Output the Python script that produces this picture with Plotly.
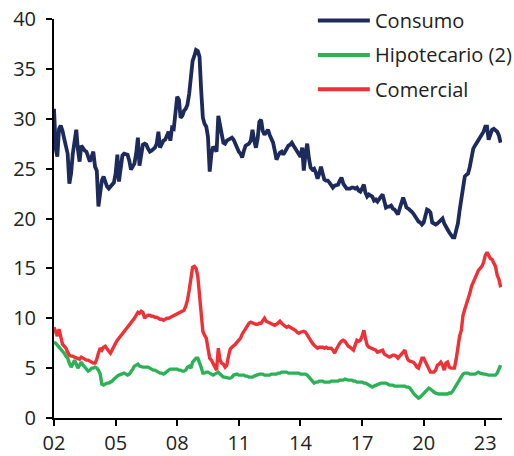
import pandas as pd
import plotly.graph_objects as go

# Monthly, Jan-2002 .. Oct-2023
start_month = "2002-01-01"

consumo = [
    31.0, 27.0, 26.2, 29.0, 29.3, 28.8, 28.0, 27.2, 26.5, 23.5, 24.5, 26.5,  # 2002
    27.5, 28.9, 27.0, 25.7, 27.3, 27.0, 26.8, 26.7, 26.3, 25.7, 26.2, 26.7,  # 2003
    25.2, 24.8, 21.2, 22.8, 23.8, 24.2, 23.7, 23.2, 23.0, 23.2, 23.4, 23.6,  # 2004
    24.5, 26.4, 23.7, 24.8, 26.3, 26.5, 26.4, 26.4, 25.8, 24.9, 25.2, 25.5,  # 2005
    26.5, 28.1, 25.3, 26.5, 27.4, 27.5, 27.4, 27.0, 26.7, 26.8, 26.9, 27.1,  # 2006
    27.5, 28.7, 27.1, 27.5, 27.8, 27.9, 28.3, 28.7, 27.8, 29.1, 29.0, 30.5,  # 2007
    32.2, 31.9, 30.1, 30.3, 30.8, 31.0, 31.4, 32.5, 34.5, 35.8, 36.3, 36.9,  # 2008
    36.8, 36.2, 33.0, 30.1, 29.5, 29.2, 28.2, 24.7, 26.5, 27.2, 27.0, 26.7,  # 2009
    30.3, 29.0, 28.5, 27.6, 27.5, 27.8, 27.9, 28.0, 28.1, 27.9, 27.5, 27.0,  # 2010
    26.7, 26.5, 26.1, 26.8, 27.3, 27.4, 27.5, 27.8, 28.9, 27.8, 27.1, 28.0,  # 2011
    29.7, 29.9, 28.8, 28.4, 28.7, 28.9, 28.4, 28.0, 27.6, 26.8, 25.9, 26.3,  # 2012
    26.6, 26.7, 26.4, 26.7, 27.0, 27.3, 27.4, 27.6, 27.3, 27.0, 26.8, 26.5,  # 2013
    26.2, 27.1, 24.8, 26.5, 27.5, 26.0, 25.1, 24.9, 25.0, 24.6, 24.0, 24.5,  # 2014
    25.2, 24.5, 23.9, 23.8, 23.8, 23.6, 23.4, 23.1, 23.3, 23.4, 23.4, 23.8,  # 2015
    24.1, 23.5, 23.2, 23.0, 23.0, 23.0, 23.1, 23.1, 23.0, 23.1, 22.8, 22.7,  # 2016
    23.0, 23.4, 22.6, 22.2, 22.4, 22.3, 22.2, 21.8, 21.9, 21.7, 22.0, 22.2,  # 2017
    22.4, 21.5, 21.1, 21.2, 21.2, 21.3, 21.0, 20.9, 20.7, 20.4, 21.0, 21.6,  # 2018
    22.1, 21.6, 21.1, 21.0, 20.9, 20.7, 20.5, 20.2, 19.9, 19.7, 19.6, 19.4,  # 2019
    19.6, 20.5, 20.9, 20.8, 20.6, 19.6, 19.5, 19.4, 19.5, 19.7, 19.9, 20.0,  # 2020
    19.5, 19.1, 18.9, 18.6, 18.4, 18.1, 18.1, 18.8, 19.5, 20.8, 21.9, 23.0,  # 2021
    24.2, 24.4, 24.5, 25.2, 26.3, 27.0, 27.3, 27.6, 27.8, 28.0, 28.4, 28.7,  # 2022
    29.2, 29.2, 27.9, 28.6, 28.9, 29.0, 28.8, 28.7, 28.3, 27.6,              # 2023
]

hipotecario = [
    7.6, 7.5, 7.3, 7.1, 7.0, 6.8, 6.5, 6.2, 6.0, 5.5, 5.1, 5.4,  # 2002
    5.8, 5.4, 5.0, 5.3, 5.6, 5.3, 5.1, 4.8, 4.7, 4.8, 5.0, 5.0,  # 2003
    5.1, 5.0, 4.8, 4.4, 3.4, 3.3, 3.4, 3.5, 3.5, 3.6, 3.7, 3.9,  # 2004
    4.1, 4.2, 4.3, 4.4, 4.4, 4.5, 4.4, 4.3, 4.4, 4.6, 4.9, 5.2,  # 2005
    5.3, 5.4, 5.2, 5.1, 5.1, 5.1, 5.1, 5.1, 5.0, 4.9, 4.8, 4.8,  # 2006
    4.7, 4.6, 4.5, 4.5, 4.4, 4.5, 4.7, 4.8, 4.9, 4.9, 4.9, 4.9,  # 2007
    4.9, 4.8, 4.8, 4.7, 4.7, 4.8, 5.1, 5.2, 5.0, 5.6, 5.8, 6.0,  # 2008
    6.0, 5.6, 5.1, 4.5, 4.5, 4.6, 4.6, 4.5, 4.4, 4.3, 4.4, 4.5,  # 2009
    4.6, 4.4, 4.2, 4.1, 4.1, 4.0, 4.0, 4.0, 4.1, 4.3, 4.4, 4.4,  # 2010
    4.3, 4.3, 4.3, 4.3, 4.2, 4.2, 4.1, 4.1, 4.1, 4.2, 4.3, 4.3,  # 2011
    4.4, 4.4, 4.4, 4.3, 4.3, 4.3, 4.3, 4.4, 4.4, 4.4, 4.4, 4.5,  # 2012
    4.5, 4.6, 4.6, 4.6, 4.6, 4.5, 4.5, 4.5, 4.5, 4.5, 4.5, 4.5,  # 2013
    4.4, 4.4, 4.4, 4.4, 4.3, 4.1, 3.9, 3.7, 3.5, 3.6, 3.6, 3.7,  # 2014
    3.7, 3.7, 3.6, 3.6, 3.6, 3.6, 3.7, 3.7, 3.7, 3.7, 3.7, 3.8,  # 2015
    3.8, 3.8, 3.9, 3.8, 3.8, 3.8, 3.8, 3.7, 3.7, 3.6, 3.6, 3.6,  # 2016
    3.6, 3.5, 3.5, 3.4, 3.3, 3.2, 3.1, 3.2, 3.3, 3.4, 3.5, 3.5,  # 2017
    3.5, 3.5, 3.5, 3.4, 3.3, 3.3, 3.3, 3.2, 3.2, 3.2, 3.2, 3.2,  # 2018
    3.2, 3.2, 3.1, 3.1, 3.0, 2.7, 2.5, 2.3, 2.1, 2.0, 2.1, 2.3,  # 2019
    2.5, 2.6, 2.8, 3.0, 2.9, 2.7, 2.6, 2.5, 2.4, 2.4, 2.4, 2.4,  # 2020
    2.4, 2.4, 2.4, 2.5, 2.5, 2.7, 3.0, 3.3, 3.6, 3.9, 4.2, 4.4,  # 2021
    4.5, 4.5, 4.5, 4.4, 4.4, 4.4, 4.4, 4.5, 4.6, 4.5, 4.4, 4.4,  # 2022
    4.4, 4.3, 4.3, 4.3, 4.3, 4.3, 4.3, 4.5, 5.0, 5.3,            # 2023
]

comercial = [
    9.1, 8.6, 8.2, 8.9, 8.0, 7.4, 7.2, 7.0, 6.6, 6.3, 6.2, 6.2,  # 2002
    6.1, 6.0, 6.0, 5.9, 6.1, 6.0, 5.9, 5.8, 5.8, 5.7, 5.6, 5.5,  # 2003
    5.5, 5.9, 6.5, 7.0, 6.8, 7.1, 7.2, 6.9, 6.7, 6.5, 6.9, 7.2,  # 2004
    7.5, 7.8, 8.0, 8.2, 8.5, 8.7, 8.9, 9.1, 9.3, 9.6, 9.8, 10.0,  # 2005
    10.3, 10.6, 10.5, 10.7, 10.6, 10.0, 10.2, 10.3, 10.3, 10.2, 10.2, 10.1,  # 2006
    10.1, 10.0, 9.9, 9.9, 9.8, 9.9, 10.0, 10.0, 10.1, 10.2, 10.3, 10.4,  # 2007
    10.5, 10.6, 10.6, 10.7, 10.8, 11.2, 11.8, 12.8, 14.0, 15.1, 15.2, 15.0,  # 2008
    14.2, 12.5, 10.5, 8.7, 8.3, 8.0, 7.0, 6.0, 5.8, 5.5, 5.2, 4.8,  # 2009
    7.0, 5.8, 5.5, 5.4, 5.1, 5.3, 6.2, 6.9, 7.1, 7.2, 7.4, 7.6,  # 2010
    7.8, 8.0, 8.4, 8.7, 9.0, 9.3, 9.5, 9.6, 9.5, 9.5, 9.4, 9.4,  # 2011
    9.5, 9.5, 9.7, 10.0, 9.7, 9.6, 9.6, 9.5, 9.4, 9.3, 9.4, 9.5,  # 2012
    9.7, 9.5, 9.3, 9.2, 9.1, 9.2, 9.1, 9.0, 8.9, 8.8, 8.6, 8.5,  # 2013
    8.6, 8.7, 8.7, 8.6, 8.3, 8.0, 7.8, 7.5, 7.3, 7.1, 7.0, 7.1,  # 2014
    7.1, 7.1, 7.0, 7.1, 7.0, 7.0, 7.0, 6.8, 6.5, 6.9, 7.3, 7.5,  # 2015
    7.7, 7.8, 7.7, 7.4, 7.2, 7.1, 6.9, 6.8, 7.3, 7.8, 7.7, 7.8,  # 2016
    8.2, 8.8, 8.0, 7.3, 7.1, 7.0, 7.0, 6.9, 6.8, 6.6, 6.7, 6.7,  # 2017
    6.8, 6.4, 6.3, 6.2, 6.1, 6.2, 6.3, 6.3, 6.2, 6.0, 6.2, 6.4,  # 2018
    6.6, 6.8, 6.2, 5.8, 5.7, 5.6, 5.6, 5.4, 5.1, 5.0, 5.4, 6.0,  # 2019
    6.0, 5.6, 5.4, 4.9, 4.6, 4.6, 4.6, 4.8, 5.3, 5.4, 5.6, 5.3,  # 2020
    4.8, 5.5, 5.6, 5.1, 5.0, 5.0, 5.0, 5.9, 7.2, 8.2, 8.8, 10.3,  # 2021
    10.9, 11.4, 11.9, 12.5, 13.2, 13.6, 14.1, 14.4, 14.8, 15.0, 15.2, 15.6,  # 2022
    16.3, 16.6, 16.3, 16.0, 15.9, 15.6, 15.2, 14.3, 13.9, 13.1,  # 2023
]

series_names = ["Consumo", "Hipotecario (2)", "Comercial"]
series_colors = ["#1C2B5C", "#2BB256", "#EE3136"]
y_ticks = [0, 5, 10, 15, 20, 25, 30, 35, 40]

dates = pd.date_range(start_month, periods=len(consumo), freq="MS")

fig = go.Figure()
for name, vals, col in zip(series_names, [consumo, hipotecario, comercial], series_colors):
    fig.add_trace(go.Scatter(
        x=dates, y=vals, mode="lines", name=name,
        line=dict(color=col, width=3.8 if name == "Consumo" else 3.4),
        showlegend=False,
    ))

FONT = "Open Sans"

# manual legend (line swatch + text) in paper coordinates
leg_y = [0.996, 0.910, 0.824]
for name, col, yy in zip(series_names, series_colors, leg_y):
    fig.add_shape(type="line", xref="paper", yref="paper",
                  x0=0.589, x1=0.705, y0=yy, y1=yy,
                  line=dict(color=col, width=4))
    fig.add_annotation(xref="paper", yref="paper", x=0.712, y=yy,
                       text=name, showarrow=False, xanchor="left", yanchor="middle",
                       font=dict(family=FONT, size=20, color="#222222"))

fig.update_layout(
    width=514, height=456,
    margin=dict(l=54, r=12, t=19, b=38, autoexpand=False),
    paper_bgcolor="white", plot_bgcolor="white",
    font=dict(family=FONT, size=20, color="#222222"),
)
fig.update_xaxes(
    type="date", automargin=False,
    range=["2002-01-01", "2023-10-25"],
    tick0="2002-01-01", dtick="M36", tickformat="%y",
    showgrid=False, zeroline=False,
    showline=True, linecolor="#000000", linewidth=2,
    ticks="outside", ticklen=6, tickwidth=2, tickcolor="#000000",
)
fig.update_yaxes(
    automargin=False,
    range=[0, 40], tickvals=y_ticks,
    showgrid=False, zeroline=False,
    showline=True, linecolor="#000000", linewidth=2,
    ticks="outside", ticklen=6, tickwidth=2, tickcolor="#000000",
    ticklabelstandoff=6,
)

fig.write_html(
    "out.html",
    config={"displayModeBar": False},
    post_script="document.body.style.margin='0px';document.body.style.overflow='hidden';",
)
